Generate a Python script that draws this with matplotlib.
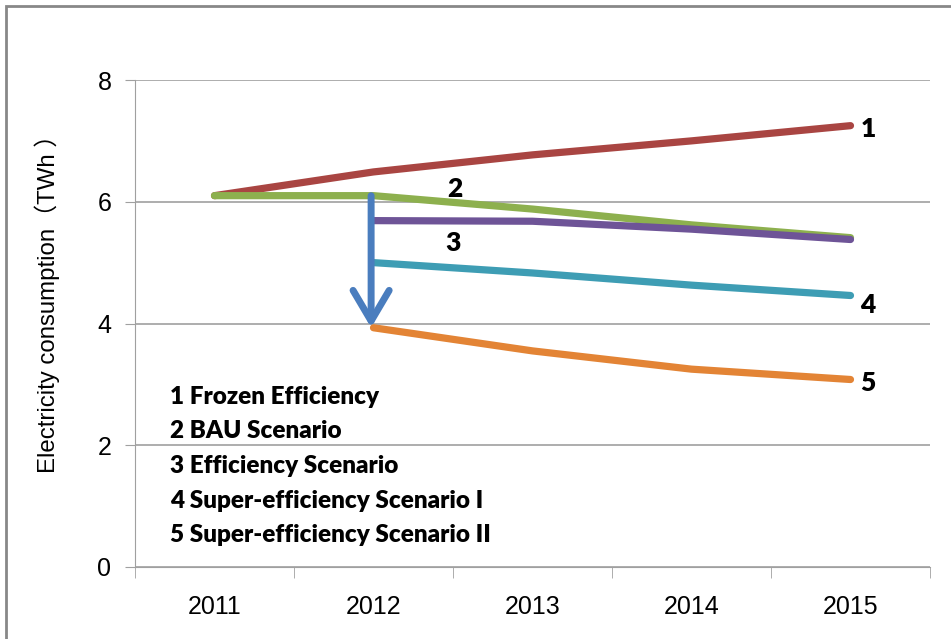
import matplotlib.pyplot as plt
from matplotlib.patches import Rectangle

years = ['2011', '2012', '2013', '2014', '2015']
frozen = [6.1, 6.49, 6.77, 7.0, 7.25]
bau = [6.1, 6.1, 5.88, 5.62, 5.41]
efficiency = [None, 5.69, 5.68, 5.55, 5.38]
super1 = [None, 5.0, 4.83, 4.63, 4.46]
super2 = [None, 3.93, 3.55, 3.25, 3.08]
legend_lines = ['1 Frozen Efficiency', '2 BAU Scenario', '3 Efficiency Scenario',
                '4 Super-efficiency Scenario I', '5 Super-efficiency Scenario II']

colors = ['#A94542', '#8DB04E', '#6E5497', '#3E9DB4', '#E38435']
series = [frozen, bau, efficiency, super1, super2]

fig = plt.figure(figsize=(9.51, 6.39), dpi=100)
ax = fig.add_axes([135 / 951, 1 - 567 / 639, 795 / 951, 487 / 639])

# outer chart border
fig.patches.append(Rectangle((6 / 951, -0.1), 1.2, 1 - 6 / 639 + 0.1,
                             transform=fig.transFigure, fill=False,
                             edgecolor='#888888', linewidth=2))

for vals, c in zip(series, colors):
    xs = [i for i, v in enumerate(vals) if v is not None]
    ys = [v for v in vals if v is not None]
    ax.plot(xs, ys, color=c, lw=5.2, solid_capstyle='round', solid_joinstyle='round')

# drop arrow from BAU to super-efficiency II in 2012
ax.annotate('', xy=(0.985, super2[1]), xytext=(0.985, bau[1]),
            arrowprops=dict(arrowstyle='->,head_length=2.2,head_width=1.3',
                            color='#4A7DBE', lw=5, shrinkA=0, shrinkB=0,
                            capstyle='round', joinstyle='round'))

lab_font = dict(fontfamily='Lato', fontweight='heavy', fontsize=19, color='black')
ax.text(4.11, 7.2, '1', ha='center', va='center', **lab_font)
ax.text(1.51, 6.21, '2', ha='center', va='center', **lab_font)
ax.text(1.50, 5.33, '3', ha='center', va='center', **lab_font)
ax.text(4.11, 4.31, '4', ha='center', va='center', **lab_font)
ax.text(4.11, 3.02, '5', ha='center', va='center', **lab_font)

for i, line in enumerate(legend_lines):
    ax.text(0.044, (567 - 397 - i * 34.5) / 487, line, transform=ax.transAxes,
            ha='left', va='center', fontfamily='Lato', fontweight='heavy',
            fontsize=17.5, color='black')

ax.set_xlim(-0.5, 4.5)
ax.set_ylim(0, 8)
ax.set_xticks(range(len(years)))
ax.set_xticklabels(years)
ax.set_xticks([-0.5, 0.5, 1.5, 2.5, 3.5, 4.5], minor=True)
ax.tick_params(axis='x', which='major', length=0, pad=20)
ax.tick_params(axis='x', which='minor', length=8, color='#A0A0A0')
ax.set_yticks([0, 2, 4, 6, 8])
ax.tick_params(axis='y', length=7, color='#A0A0A0', pad=10)
ax.tick_params(labelsize=18)
for lab in ax.get_xticklabels() + ax.get_yticklabels():
    lab.set_fontfamily('Liberation Sans')

ax.grid(axis='y', color='#A0A0A0', lw=1.2)
ax.set_axisbelow(True)
for s in ['top', 'right']:
    ax.spines[s].set_visible(False)
for s in ['left', 'bottom']:
    ax.spines[s].set_color('#A0A0A0')

ax.set_ylabel('Electricity consumption（TWh ）', fontsize=17.3,
              family=['Liberation Sans', 'Noto Sans CJK SC'])
ax.yaxis.set_label_coords(-0.094, 0.552)

fig.savefig('out.png', dpi=100)
